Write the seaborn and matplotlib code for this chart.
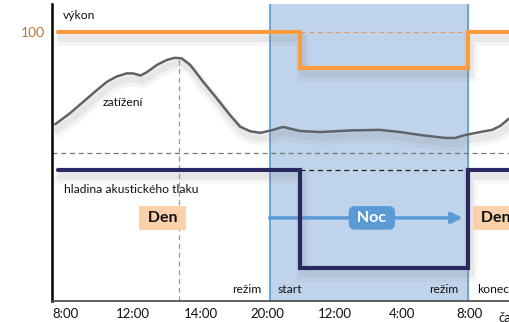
import matplotlib
matplotlib.use("Agg")
from matplotlib import pyplot as plt
import matplotlib.patheffects as pe
import seaborn as sns

# time axis (schematic positions of the tick labels)
tick_pos = [0, 1, 2, 3, 4, 5, 6]
tick_labels = ["8:00", "12:00", "14:00", "20:00", "12:00", "4:00", "8:00"]
night_start, night_end = 3.03, 5.98

# výkon (power), step curve
power_x = [-0.12, 3.48, 3.48, 5.98, 5.98, 6.7]
power_y = [100, 100, 86.6, 86.6, 100, 100]

# zatížení (load)
load_x = [-0.16, 0.06, 0.26, 0.46, 0.61, 0.75, 0.90, 1.0, 1.11, 1.20, 1.35,
          1.50, 1.62, 1.72, 1.85, 2.04, 2.24, 2.44, 2.59, 2.74, 2.89, 3.05,
          3.23, 3.48, 3.78, 4.23, 4.67, 4.97, 5.27, 5.64, 5.79, 5.94, 6.16,
          6.34, 6.46, 6.6]
load_y = [65.7, 69.8, 74.1, 78.4, 81.5, 83.4, 84.6, 84.6, 83.8, 85.0, 87.7,
          89.6, 90.4, 90.2, 87.7, 81.5, 75.4, 69.1, 64.8, 63.1, 62.5, 63.4,
          64.7, 63.2, 62.8, 63.4, 63.6, 62.8, 61.7, 60.6, 60.6, 61.7, 62.8,
          63.6, 65.1, 68.0]
load_peak_x = 1.68

# hladina akustického tlaku (sound pressure level), step curve
noise_x = [-0.12, 3.48, 3.48, 5.98, 5.98, 6.7]
noise_y = [48.7, 48.7, 12.3, 12.3, 48.7, 48.7]

divider_y = 55.0

orange = "#f89c3f"
navy = "#2a2860"
grey = "#5e6269"
blue = "#5b9bd5"

sns.set_style("white")
plt.rcParams["font.family"] = ["Lato", "DejaVu Sans"]

fig = plt.figure(figsize=(5.09, 3.22), dpi=100)
ax = fig.add_axes([52 / 509, 21 / 322, 457 / 509, 297 / 322])
ax.set_xlim(-0.208, 6.59)
ax.set_ylim(0, 110.4)

ax.axvspan(night_start, night_end, color="#bfd3ea", zorder=0)
ax.axvline(night_start, color=blue, lw=1.2, zorder=1)
ax.axvline(night_end, color=blue, lw=1.2, zorder=1)

ax.axhline(divider_y, color="#777777", lw=0.9, ls=(0, (4, 3)), zorder=1)
ax.plot([load_peak_x, load_peak_x], [0, max(load_y)], color="#999999",
        lw=0.9, ls=(0, (4, 3)), zorder=1)
ax.plot([power_x[1], power_x[3]], [power_y[0], power_y[0]], color="#e59a6a",
        lw=0.9, ls=(0, (4, 3)), zorder=1)
ax.plot([noise_x[1], noise_x[3]], [noise_y[0], noise_y[0]], color="#222222",
        lw=0.9, ls=(0, (4, 3)), zorder=1)

# soft drop shadow below the curves
shadow = [pe.SimpleLineShadow(offset=(1.5, -5), shadow_color="#888888", alpha=0.08, linewidth=9),
          pe.SimpleLineShadow(offset=(1.5, -4), shadow_color="#888888", alpha=0.12, linewidth=5),
          pe.Normal()]

sns.lineplot(x=load_x, y=load_y, estimator=None, sort=False, color=grey,
             lw=1.8, ax=ax, zorder=3, path_effects=shadow,
             solid_joinstyle="round")
sns.lineplot(x=power_x, y=power_y, estimator=None, sort=False, color=orange,
             lw=3, ax=ax, zorder=4, path_effects=shadow,
             solid_capstyle="round", solid_joinstyle="miter")
sns.lineplot(x=noise_x, y=noise_y, estimator=None, sort=False, color=navy,
             lw=3, ax=ax, zorder=4, path_effects=shadow,
             solid_capstyle="round", solid_joinstyle="miter")

# Den / Noc regime markers
ax.annotate("", xy=(5.9, 30.9), xytext=(night_start, 30.9),
            arrowprops=dict(arrowstyle="-|>", color=blue, lw=2.5,
                            mutation_scale=16, shrinkA=0, shrinkB=0), zorder=3)
ax.text(4.55, 30.9, " Noc ", color="white", fontsize=11.5, fontweight="bold",
        ha="center", va="center", zorder=5,
        bbox=dict(boxstyle="round,pad=0.3,rounding_size=0.4", fc=blue, ec="none"))
ax.text(1.44, 30.9, " Den ", color="#111111", fontsize=11.5, fontweight="bold",
        ha="center", va="center", zorder=5,
        bbox=dict(boxstyle="square,pad=0.3", fc="#fbd1aa", ec="none"))
ax.text(6.12, 30.9, " Den ", color="#111111", fontsize=11.5, fontweight="bold",
        ha="left", va="center", zorder=5,
        bbox=dict(boxstyle="square,pad=0.3", fc="#fbd1aa", ec="none"))

txt = dict(fontsize=8.7, color="#111111", va="center")
ax.text(-0.045, 106.0, "výkon", **txt)
ax.text(0.55, 73.6, "zatížení", **txt)
ax.text(-0.03, 41.6, "hladina akustického tlaku", **txt)
ax.text(2.9, 4.1, "režim", ha="right", **txt)
ax.text(3.15, 4.1, "start", ha="left", **txt)
ax.text(5.84, 4.1, "režim", ha="right", **txt)
ax.text(6.12, 4.1, "konec", ha="left", **txt)
ax.text(6.44, -6.3, "čas", fontsize=9.5, color="#111111", ha="left", va="center",
        clip_on=False)

ax.set_xticks(tick_pos)
ax.set_xticklabels(tick_labels, fontsize=9.5, color="#111111")
ax.set_yticks([100])
ax.set_yticklabels(["100"], fontsize=10, color="#b07a3c")
ax.tick_params(length=0, pad=5)

sns.despine(ax=ax, top=True, right=True)
ax.spines["left"].set_color("black")
ax.spines["left"].set_linewidth(1.8)
ax.spines["bottom"].set_color("#444444")
ax.spines["bottom"].set_linewidth(1.2)

fig.savefig("out.png", dpi=100)
